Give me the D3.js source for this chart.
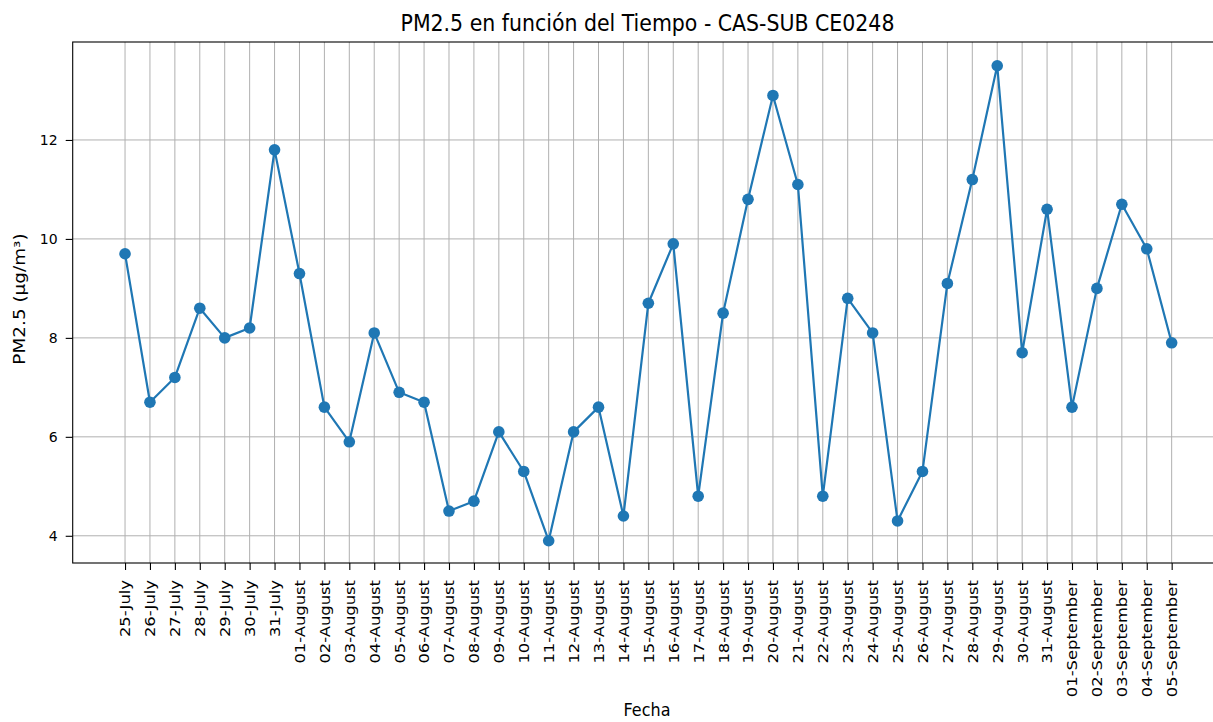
<!DOCTYPE html>
<html>
	<head>
		<meta charset="utf-8" />
		<title>PM2.5 en función del Tiempo</title>
		<script src="https://d3js.org/d3.v7.min.js"></script>
		<style>
            body {
                margin: 0;
                background: white;
            }

            svg, svg text {
                display: block;
                font-family: "DejaVu Sans", sans-serif;
            }

            .grid line {
                stroke: #b0b0b0;
                stroke-width: 1;
            }
        </style>
	</head>
	<body>
		<div id="holder"></div>

		<script>
            //Data
            const fechas = [
                "25-July", "26-July", "27-July", "28-July", "29-July", "30-July", "31-July",
                "01-August", "02-August", "03-August", "04-August", "05-August", "06-August", "07-August",
                "08-August", "09-August", "10-August", "11-August", "12-August", "13-August", "14-August",
                "15-August", "16-August", "17-August", "18-August", "19-August", "20-August", "21-August",
                "22-August", "23-August", "24-August", "25-August", "26-August", "27-August", "28-August",
                "29-August", "30-August", "31-August",
                "01-September", "02-September", "03-September", "04-September", "05-September"
            ];
            const pm25 = [
                9.7, 6.7, 7.2, 8.6, 8.0, 8.2, 11.8,
                9.3, 6.6, 5.9, 8.1, 6.9, 6.7, 4.5,
                4.7, 6.1, 5.3, 3.9, 6.1, 6.6, 4.4,
                8.7, 9.9, 4.8, 8.5, 10.8, 12.9, 11.1,
                4.8, 8.8, 8.1, 4.3, 5.3, 9.1, 11.2,
                13.5, 7.7, 10.6,
                6.6, 9.0, 10.7, 9.8, 7.9
            ];
            const yTicks = [4, 6, 8, 10, 12];

            //Variables
            const w = 1213;
            const h = 722;
            const pLeft = 72.7, pRight = 1224, pTop = 42, pBottom = 563;
            const blue = "#1f77b4";
            const font = "DejaVu Sans";

            const xScale = d3.scaleLinear()
                .domain([-2.1, fechas.length - 1 + 2.1])
                .range([pLeft, pRight]);

            const yScale = d3.scaleLinear()
                .domain([3.45, 13.98])
                .range([pBottom, pTop]);

            const svg = d3.select("#holder")
                .append("svg")
                .attr("width", w)
                .attr("height", h);

            //Grid
            const grid = svg.append("g").attr("class", "grid");
            grid.selectAll("line.v")
                .data(fechas.map((d, i) => i))
                .enter()
                .append("line")
                .attr("class", "v")
                .attr("x1", d => xScale(d))
                .attr("x2", d => xScale(d))
                .attr("y1", pTop)
                .attr("y2", pBottom);

            grid.selectAll("line.h")
                .data(yTicks)
                .enter()
                .append("line")
                .attr("class", "h")
                .attr("x1", pLeft)
                .attr("x2", pRight)
                .attr("y1", d => yScale(d))
                .attr("y2", d => yScale(d));

            //Axes
            const xAxis = d3.axisBottom(xScale)
                .tickValues(fechas.map((d, i) => i))
                .tickFormat(i => fechas[i])
                .tickSize(7)
                .tickSizeOuter(0);
            const gx = svg.append("g")
                .attr("id", "x-axis")
                .attr("transform", "translate(0," + pBottom + ")")
                .call(xAxis)
                .attr("font-family", font);
            gx.select(".domain").remove();
            gx.selectAll(".tick line").attr("stroke", "#000").attr("stroke-width", 1.1);
            gx.selectAll(".tick text")
                .attr("font-size", 14)
                .attr("fill", "#000")
                .attr("text-anchor", "end")
                .attr("dy", "0.35em")
                .attr("y", 0)
                .attr("transform", "translate(0,17) rotate(-90) scale(1.17,1)");

            const yAxis = d3.axisLeft(yScale)
                .tickValues(yTicks)
                .tickFormat(d3.format("d"))
                .tickSize(7)
                .tickSizeOuter(0);
            const gy = svg.append("g")
                .attr("id", "y-axis")
                .attr("transform", "translate(" + pLeft + ",0)")
                .call(yAxis)
                .attr("font-family", font);
            gy.select(".domain").remove();
            gy.selectAll(".tick line").attr("stroke", "#000").attr("stroke-width", 1.1);
            gy.selectAll(".tick text")
                .attr("font-size", 14)
                .attr("fill", "#000")
                .attr("x", -15);

            //Frame (right spine is cut off by the picture edge)
            svg.append("rect")
                .attr("x", pLeft)
                .attr("y", pTop)
                .attr("width", pRight - pLeft)
                .attr("height", pBottom - pTop)
                .attr("fill", "none")
                .attr("stroke", "#000")
                .attr("stroke-width", 1.1);

            //Line + markers
            const line = d3.line()
                .x((d, i) => xScale(i))
                .y(d => yScale(d));

            svg.append("path")
                .datum(pm25)
                .attr("d", line)
                .attr("fill", "none")
                .attr("stroke", blue)
                .attr("stroke-width", 2.2)
                .attr("stroke-linejoin", "round");

            svg.selectAll("circle")
                .data(pm25)
                .enter()
                .append("circle")
                .attr("cx", (d, i) => xScale(i))
                .attr("cy", d => yScale(d))
                .attr("r", 5.8)
                .attr("fill", blue);

            //Labels
            svg.append("text")
                .attr("x", 647.5)
                .attr("y", 31)
                .attr("text-anchor", "middle")
                .attr("font-size", 20.5)
                .attr("transform", "translate(0,31) scale(1,1.1) translate(0,-31)")
                .text("PM2.5 en función del Tiempo - CAS-SUB CE0248");

            svg.append("text")
                .attr("x", 647)
                .attr("y", 716)
                .attr("text-anchor", "middle")
                .attr("font-size", 16)
                .attr("transform", "translate(0,716) scale(1,1.15) translate(0,-716)")
                .text("Fecha");

            svg.append("text")
                .attr("text-anchor", "middle")
                .attr("font-size", 16)
                .attr("transform", "translate(25,299) rotate(-90) scale(1.15,1)")
                .text("PM2.5 (µg/m³)");
        </script>
	</body>
</html>
